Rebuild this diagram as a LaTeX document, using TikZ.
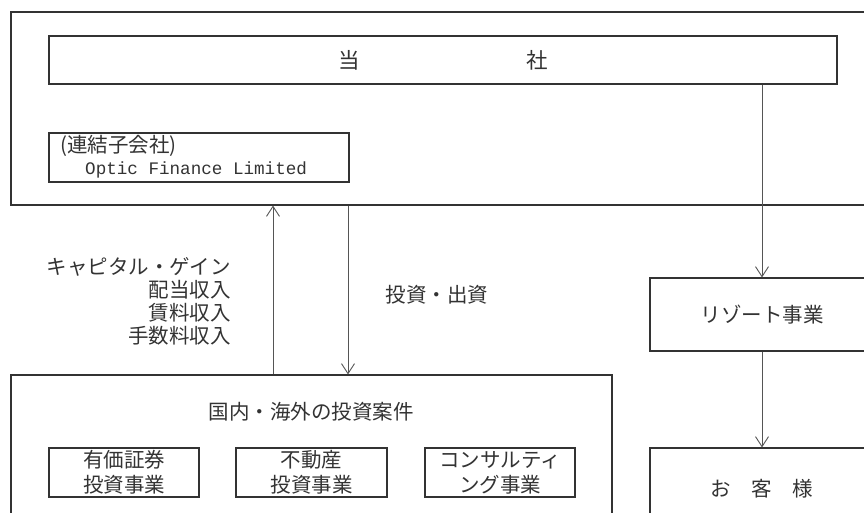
\documentclass[tikz,border=0pt]{standalone}
\usepackage{fontspec}
\setmainfont{Noto Sans CJK JP}
\newfontfamily\latinmono{Liberation Mono}
\usetikzlibrary{arrows.meta}
\definecolor{ink}{HTML}{333333}
\definecolor{linegray}{HTML}{555555}
\tikzset{
  box/.style={draw=ink, line width=1.1pt, rectangle, inner sep=0pt},
  lbl/.style={text=ink, inner sep=0pt, font=\fontsize{20.5}{23}\selectfont},
  arr/.style={draw=linegray, line width=0.9pt, -{Straight Barb[length=10pt,width=13pt]}},
}
\begin{document}
\begin{tikzpicture}[x=1pt,y=-1pt]
\useasboundingbox (0,0) rectangle (864,513);
\clip (0,0) rectangle (864,513);
% outer group box (open at right)
\node[box, minimum width=869pt, minimum height=193pt] (group) at (445.5,108.5) {};
% company box
\node[box, minimum width=788pt, minimum height=48pt, lbl, font=\fontsize{21.5}{23}\selectfont] (tosha) at (443,60) {当\hspace{167pt}社};
% subsidiary box
\node[box, minimum width=300pt, minimum height=49pt] (optic) at (199,157.5) {};
\node[lbl, anchor=west, font=\fontsize{20.5}{22}\selectfont] (optjp) at (60,146) {(連結子会社)};
\node[lbl, anchor=west, font=\latinmono\fontsize{17.6}{20}\selectfont] (opten) at (85,170) {Optic Finance Limited};
% investment box (open at bottom)
\node[box, minimum width=601pt, minimum height=155pt] (invest) at (311.5,452.5) {};
\node[lbl] (investhead) at (311,412) {国内・海外の投資案件};
\node[box, lbl, minimum width=150pt, minimum height=49pt, align=center, font=\fontsize{20.5}{25}\selectfont] (sec) at (124,472.5) {有価証券\\投資事業};
\node[box, lbl, minimum width=151pt, minimum height=49pt, align=center, font=\fontsize{20.5}{25}\selectfont] (realestate) at (311.5,472.5) {不動産\\投資事業};
\node[box, lbl, minimum width=150pt, minimum height=49pt, align=center, font=\fontsize{20.5}{25}\selectfont] (consult) at (500,472.5) {コンサルティ\\ング事業};
% resort and customers (open at right)
\node[box, lbl, minimum width=224pt, minimum height=73pt] (resort) at (762,314.5) {リゾート事業};
\node[box, lbl, minimum width=224pt, minimum height=82pt] (customer) at (762,489) {お　客　様};
% labels
\node[lbl, align=right, anchor=east] (income) at (231,301.5) {キャピタル・ゲイン\\配当収入\\賃料収入\\手数料収入};
\node[lbl] (investlbl) at (437,295) {投資・出資};
% connectors
\coordinate (upx) at (273,0);
\coordinate (downx) at (348,0);
\draw[arr] (invest.north -| upx) -- (group.south -| upx);
\draw[arr] (group.south -| downx) -- (invest.north -| downx);
\draw[arr] (tosha.south -| resort.north) -- (resort.north);
\draw[arr] (resort.south) -- (customer.north);
\end{tikzpicture}
\end{document}
